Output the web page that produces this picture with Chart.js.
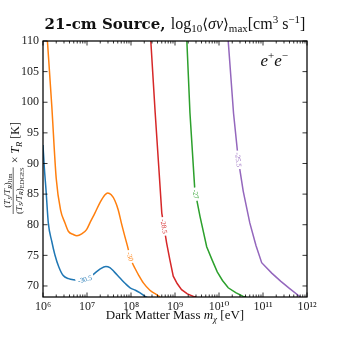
<!doctype html>
<html lang="en">
<head>
<meta charset="UTF-8">
<title>21-cm Source</title>
<script src="https://cdn.jsdelivr.net/npm/chart.js@4.4.1/dist/chart.umd.min.js"></script>
<style>
    html, body { margin: 0; padding: 0; background: #fff; }
</style>
</head>
<body>
<canvas id="chart" width="340" height="340"></canvas>
<script>
// contour levels: log10 <sigma v>_max [cm^3 s^-1]
var levels = [-30.5, -30, -28.5, -27, -25.5];
var colors = ['#1f77b4', '#ff7f0e', '#d62728', '#2ca02c', '#9467bd'];

// dark matter mass [eV] and (Ts/Tr)_lim/(Ts/Tr)_EDGES x T_R [K] along each contour
var massA = [1.00e6, 1.07e6, 1.17e6, 1.32e6, 1.58e6, 1.86e6, 2.29e6, 2.88e6, 3.80e6, 4.90e6, 7.08e6, 1.12e7,
    1.51e7, 2.00e7, 2.69e7, 3.31e7, 4.17e7, 5.62e7, 7.41e7, 9.55e7, 1.26e8, 1.58e8, 2.09e8, 2.51e8];
var tempA = [93.0, 89.4, 85.7, 80.3, 77.3, 75.1, 73.1, 71.7, 71.2, 71.0, 70.9, 71.3,
    72.1, 72.8, 73.2, 73.0, 72.3, 71.3, 70.4, 69.7, 69.3, 68.9, 68.3, 68.0];

var massB = [1.26e6, 1.58e6, 2.00e6, 2.51e6, 3.16e6, 3.80e6, 4.90e6, 5.89e6, 7.59e6, 9.77e6, 1.20e7, 1.51e7,
    2.00e7, 2.57e7, 2.95e7, 3.55e7, 4.27e7, 5.13e7, 6.03e7, 7.24e7, 8.32e7, 9.55e7, 1.07e8, 1.23e8,
    1.51e8, 1.91e8, 2.69e8, 3.80e8, 4.57e8];
var tempB = [110, 99.5, 87.5, 82.4, 80.3, 78.9, 78.4, 78.2, 78.5, 79.2, 80.5, 81.9,
    83.7, 84.9, 85.2, 84.9, 84.0, 82.4, 80.3, 78.1, 76.5, 74.8, 73.8, 72.9,
    71.7, 70.5, 69.3, 68.6, 68.2];

var massC = [2.82e8, 3.55e8, 4.27e8, 5.01e8, 6.46e8, 7.59e8, 9.12e8, 1.12e9, 1.41e9, 1.91e9, 2.63e9, 3.02e9];
var tempC = [110, 98.2, 89.5, 81.9, 77.0, 74.4, 71.6, 70.4, 69.4, 68.7, 68.3, 68.2];

var massD = [1.86e9, 2.19e9, 2.82e9, 3.72e9, 5.25e9, 6.92e9, 9.12e9, 1.20e10, 1.62e10, 2.40e10, 3.55e10, 4.17e10];
var tempD = [110, 98.2, 85.7, 81.3, 76.4, 74.3, 72.3, 70.9, 69.7, 68.9, 68.3, 68.2];

var massE = [1.62e10, 2.14e10, 2.75e10, 3.55e10, 5.01e10, 6.92e10, 9.33e10, 1.58e11, 2.51e11, 3.98e11, 7.08e11];
var tempE = [110, 98.2, 90.6, 85.5, 80.3, 76.6, 73.8, 72.1, 70.8, 69.6, 68.2];

// where the inline contour labels sit
var labelMass = [8.9e6, 9.55e7, 5.25e8, 3.0e9, 2.75e10];
var labelTemp = [71.1, 74.8, 79.7, 85.0, 90.6];

var xTicks = [1e6, 1e7, 1e8, 1e9, 1e10, 1e11, 1e12];
var yTicks = [70, 75, 80, 85, 90, 95, 100, 105, 110];

var SERIF = '"Liberation Serif", "DejaVu Serif", serif';
var SUP = {'0': '⁰', '1': '¹', '2': '²', '3': '³', '4': '⁴', '5': '⁵', '6': '⁶', '7': '⁷', '8': '⁸', '9': '⁹'};

var series = [[massA, tempA], [massB, tempB], [massC, tempC], [massD, tempD], [massE, tempE]];
var datasets = series.map(function (s, i) {
    return {
        label: String(levels[i]),
        data: s[0].map(function (m, j) { return {x: m, y: s[1][j]}; }),
        borderColor: colors[i],
        borderWidth: 1.5,
        pointRadius: 0,
        tension: 0,
        cubicInterpolationMode: i < 2 ? 'monotone' : 'default'
    };
});

function richWidth(ctx, segs) {
    var w = 0;
    segs.forEach(function (s) { ctx.font = s.f; w += ctx.measureText(s.t).width; });
    return w;
}
function drawRich(ctx, segs, x, y) {
    segs.forEach(function (s) {
        ctx.font = s.f;
        ctx.fillText(s.t, x, y + (s.dy || 0));
        x += ctx.measureText(s.t).width;
    });
}
function ratio(sub) {
    var f = '9px ' + SERIF, fi = 'italic 9px ' + SERIF, fs = 'italic 6.5px ' + SERIF;
    return [{t: '(', f: f}, {t: 'T', f: fi}, {t: 'S', f: fs, dy: 1.5}, {t: '/', f: f}, {t: 'T', f: fi},
        {t: 'R', f: fs, dy: 1.5}, {t: ')', f: f}, {t: sub, f: '6.5px ' + SERIF, dy: 2}];
}

var contourLabels = {
    id: 'contourLabels',
    afterDatasetsDraw: function (chart) {
        var ctx = chart.ctx, xs = chart.scales.x, ys = chart.scales.y;
        levels.forEach(function (lv, i) {
            var pts = chart.getDatasetMeta(i).data;
            var px = xs.getPixelForValue(labelMass[i]), py = ys.getPixelForValue(labelTemp[i]);
            var best = null;
            for (var j = 0; j < pts.length - 1; j++) {
                var a = pts[j], b = pts[j + 1];
                var dx = b.x - a.x, dy = b.y - a.y, len2 = dx * dx + dy * dy;
                var t = len2 ? ((px - a.x) * dx + (py - a.y) * dy) / len2 : 0;
                t = Math.max(0, Math.min(1, t));
                var qx = a.x + t * dx, qy = a.y + t * dy;
                var d = (qx - px) * (qx - px) + (qy - py) * (qy - py);
                if (!best || d < best.d) best = {d: d, x: qx, y: qy, ang: Math.atan2(dy, dx)};
            }
            var ang = best.ang;
            if (ang > Math.PI / 2) ang -= Math.PI;
            if (ang < -Math.PI / 2) ang += Math.PI;
            ctx.save();
            ctx.translate(best.x, best.y);
            ctx.rotate(ang);
            ctx.font = '7px ' + SERIF;
            var w = ctx.measureText(String(lv)).width;
            ctx.fillStyle = '#fff';
            ctx.fillRect(-w / 2 - 2, -4, w + 4, 8);
            ctx.fillStyle = colors[i];
            ctx.textAlign = 'center';
            ctx.textBaseline = 'middle';
            ctx.fillText(String(lv), 0, 0.5);
            ctx.restore();
        });
    }
};

var frame = {
    id: 'frame',
    afterDraw: function (chart) {
        var ctx = chart.ctx, a = chart.chartArea, xs = chart.scales.x, ys = chart.scales.y;
        ctx.save();
        ctx.strokeStyle = '#000';
        // ticks, pointing in, on all four sides
        ctx.lineWidth = 0.8;
        ctx.beginPath();
        xTicks.forEach(function (v, k) {
            var x = xs.getPixelForValue(v);
            ctx.moveTo(x, a.bottom); ctx.lineTo(x, a.bottom - 4.5);
            ctx.moveTo(x, a.top); ctx.lineTo(x, a.top + 4.5);
            if (k === xTicks.length - 1) return;
            for (var m = 2; m < 10; m++) {
                var xm = xs.getPixelForValue(v * m);
                ctx.moveTo(xm, a.bottom); ctx.lineTo(xm, a.bottom - 2.5);
                ctx.moveTo(xm, a.top); ctx.lineTo(xm, a.top + 2.5);
            }
        });
        yTicks.forEach(function (v) {
            var y = ys.getPixelForValue(v);
            ctx.moveTo(a.left, y); ctx.lineTo(a.left + 4.5, y);
            ctx.moveTo(a.right, y); ctx.lineTo(a.right - 4.5, y);
        });
        ctx.stroke();
        ctx.lineWidth = 1.25;
        ctx.strokeRect(a.left, a.top, a.right - a.left, a.bottom - a.top);

        ctx.fillStyle = '#111';
        ctx.textBaseline = 'alphabetic';
        // title
        var title = [
            {t: '21-cm Source, ', f: 'bold 15px "DejaVu Serif"'},
            {t: 'log', f: '16px ' + SERIF},
            {t: '10', f: '11px ' + SERIF, dy: 3},
            {t: '⟨', f: '15px "DejaVu Serif"'},
            {t: 'σv', f: 'italic 16px ' + SERIF},
            {t: '⟩', f: '15px "DejaVu Serif"'},
            {t: 'max', f: '11px ' + SERIF, dy: 3},
            {t: '[cm', f: '16px ' + SERIF},
            {t: '3', f: '11px ' + SERIF, dy: -6},
            {t: ' s', f: '16px ' + SERIF},
            {t: '−1', f: '11px ' + SERIF, dy: -6},
            {t: ']', f: '16px ' + SERIF}
        ];
        var cx = (a.left + a.right) / 2;
        drawRich(ctx, title, cx - richWidth(ctx, title) / 2, 29);

        // x axis title
        var xl = [
            {t: 'Dark Matter Mass ', f: '13px ' + SERIF},
            {t: 'm', f: 'italic 13px ' + SERIF},
            {t: 'χ', f: 'italic 9px ' + SERIF, dy: 3},
            {t: ' [eV]', f: '13px ' + SERIF}
        ];
        drawRich(ctx, xl, cx - richWidth(ctx, xl) / 2, 319);

        // channel tag
        var tag = [
            {t: 'e', f: 'italic 17px ' + SERIF},
            {t: '+', f: '11px ' + SERIF, dy: -7},
            {t: 'e', f: 'italic 17px ' + SERIF},
            {t: '−', f: '11px ' + SERIF, dy: -7}
        ];
        drawRich(ctx, tag, 288 - richWidth(ctx, tag), 66);

        // y axis title, rotated: fraction then "x T_R [K]"
        ctx.save();
        ctx.translate(0, 214);
        ctx.rotate(-Math.PI / 2);
        var num = ratio('lim'), den = ratio('EDGES');
        var nw = richWidth(ctx, num), dw = richWidth(ctx, den), fw = Math.max(nw, dw);
        drawRich(ctx, num, (fw - nw) / 2, 10);
        drawRich(ctx, den, (fw - dw) / 2, 21.5);
        ctx.lineWidth = 0.6;
        ctx.beginPath();
        ctx.moveTo(0, 13.2); ctx.lineTo(fw, 13.2);
        ctx.stroke();
        drawRich(ctx, [
            {t: ' × ', f: '12px ' + SERIF},
            {t: 'T', f: 'italic 12px ' + SERIF},
            {t: 'R', f: 'italic 8.5px ' + SERIF, dy: 2.5},
            {t: ' [K]', f: '12px ' + SERIF}
        ], fw + 1, 19);
        ctx.restore();
        ctx.restore();
    }
};

var ctx = document.getElementById('chart').getContext('2d');
var chart = new Chart(ctx, {
    type: 'line',
    data: {datasets: datasets},
    options: {
        responsive: false,
        animation: false,
        layout: {padding: {top: 41, right: 33, left: 0, bottom: 0}},
        plugins: {legend: {display: false}, tooltip: {enabled: false}, title: {display: false}},
        scales: {
            x: {
                type: 'logarithmic',
                min: 1e6,
                max: 1e12,
                grid: {display: false, drawTicks: false},
                border: {display: false},
                afterBuildTicks: function (s) {
                    s.ticks = xTicks.map(function (v) { return {value: v}; });
                },
                afterFit: function (s) { s.height = 43; },
                ticks: {
                    autoSkip: false,
                    maxRotation: 0,
                    padding: 3,
                    color: '#222',
                    font: {family: SERIF, size: 12},
                    callback: function (v) {
                        var e = String(Math.round(Math.log10(v)));
                        return '10' + e.split('').map(function (c) { return SUP[c]; }).join('');
                    }
                }
            },
            y: {
                type: 'linear',
                min: 68.2,
                max: 110,
                grid: {display: false, drawTicks: false},
                border: {display: false},
                afterBuildTicks: function (s) {
                    s.ticks = yTicks.map(function (v) { return {value: v}; });
                },
                afterFit: function (s) { s.width = 43; },
                ticks: {
                    padding: 4,
                    color: '#222',
                    font: {family: SERIF, size: 12}
                }
            }
        }
    },
    plugins: [contourLabels, frame]
});
</script>
</body>
</html>
